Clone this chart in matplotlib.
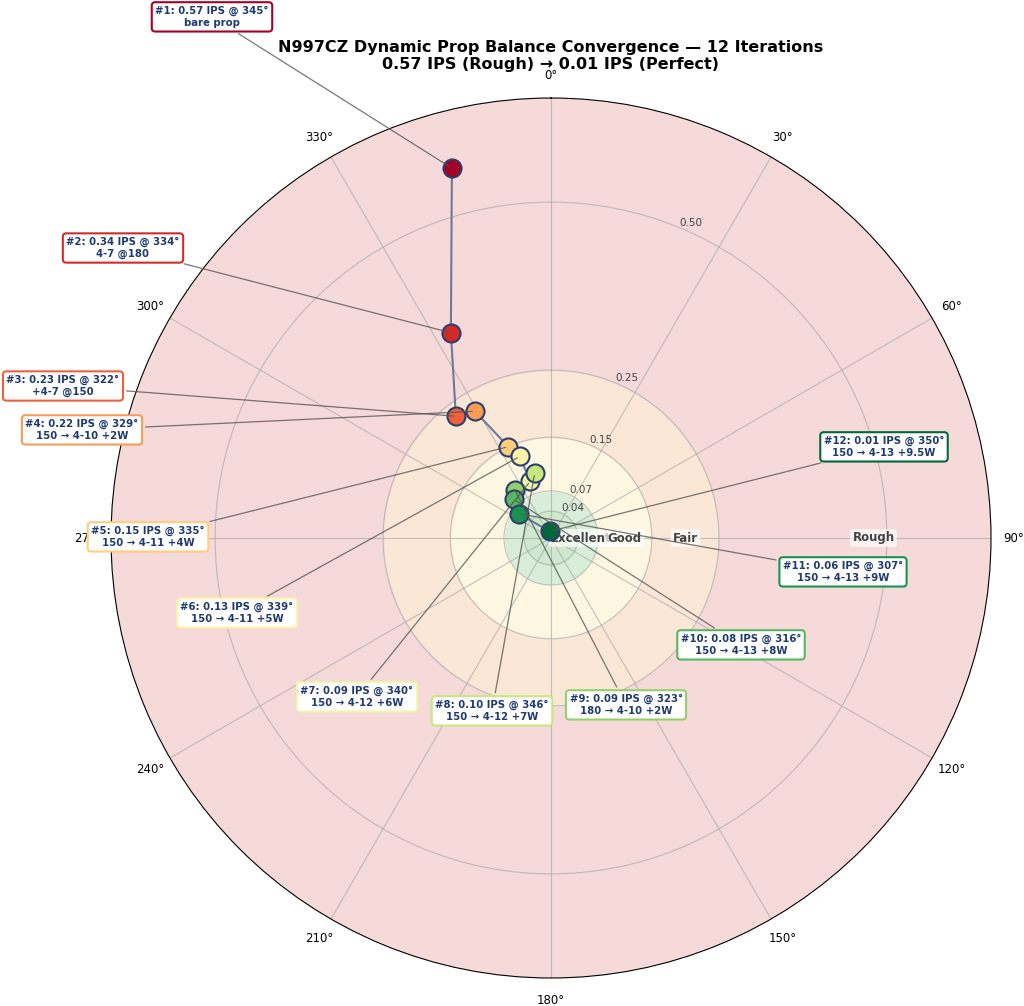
import numpy as np
import matplotlib
matplotlib.use("Agg")
import matplotlib.pyplot as plt

iters = list(range(1, 13))
ips = [0.57, 0.34, 0.23, 0.22, 0.15, 0.13, 0.09, 0.10, 0.09, 0.08, 0.06, 0.01]
angles = [345, 334, 322, 329, 335, 339, 340, 346, 323, 316, 307, 350]
notes = ["bare prop", "4-7 @180", "+4-7 @150", "150 → 4-10 +2W", "150 → 4-11 +4W",
         "150 → 4-11 +5W", "150 → 4-12 +6W", "150 → 4-12 +7W", "180 → 4-10 +2W",
         "150 → 4-13 +8W", "150 → 4-13 +9W", "150 → 4-13 +9.5W"]
label_px = [(212, 17), (123, 248), (63, 386), (82, 430), (148, 537), (237, 613),
            (357, 697), (492, 711), (626, 705), (741, 645), (843, 572), (884, 447)]
zone_edges = [0, 0.07, 0.15, 0.25, 0.655]
zone_colors = ["#d8eed8", "#fdf7e1", "#fbe7d6", "#f6d9d9"]
zone_names = ["Excellent", "Good", "Fair", "Rough"]
zone_label_r = [0.045, 0.11, 0.2, 0.48]
rticks = [0.04, 0.07, 0.15, 0.25, 0.50]

W, H = 1024, 1006
fig = plt.figure(figsize=(W/100, H/100), dpi=100)
ax = fig.add_axes([111/W, (H-978)/H, 880/W, 880/H], projection="polar")
ax.set_theta_zero_location("N")
ax.set_theta_direction(-1)
ax.set_ylim(0, zone_edges[-1])

th = np.linspace(0, 2*np.pi, 400)
for i in range(4):
    ax.fill_between(th, zone_edges[i], zone_edges[i+1], color=zone_colors[i], zorder=0)
ax.fill_between(th, 0, 0.04, color="#c6e6c6", alpha=0.5, zorder=0)
for n, r in zip(zone_names, zone_label_r):
    ax.text(np.deg2rad(90), r, n, ha="center", va="center", fontsize=8.5, fontweight="bold",
            color="#444444", bbox=dict(boxstyle="round,pad=0.2", fc="white", ec="none", alpha=0.7), zorder=3)

ax.set_rticks(rticks)
ax.set_yticklabels([f"{v:.2f}" for v in rticks], fontsize=7.5, color="#444444")
ax.set_rlabel_position(22.5)
ax.set_thetagrids(np.arange(0, 360, 30), [f"{a}°" for a in range(0, 360, 30)], fontsize=8.5)
ax.tick_params(axis="x", pad=6)
ax.grid(color="#aaaaaa", alpha=0.7)

t = np.deg2rad(angles)
ax.plot(t, ips, color="#6b7a99", lw=1.5, zorder=4)
cols = plt.cm.RdYlGn(np.linspace(0, 1, 12))
for i in range(12):
    ax.plot(t[i], ips[i], "o", ms=13, mfc=cols[i], mec="#2c3e6e", mew=1.5, zorder=5)
    x, y = label_px[i]
    ax.annotate(f"#{iters[i]}: {ips[i]:.2f} IPS @ {angles[i]}°\n{notes[i]}",
                xy=(t[i], ips[i]), xytext=(x/W, 1-y/H), textcoords="figure fraction",
                ha="center", va="center", fontsize=7.3, fontweight="bold", color="#1f3a6e",
                bbox=dict(boxstyle="round,pad=0.35", fc="white", ec=cols[i], lw=1.5),
                arrowprops=dict(arrowstyle="-", color="#555555", lw=0.9, alpha=0.8),
                annotation_clip=False, zorder=6)

fig.text(551/W, 1-56/H, "N997CZ Dynamic Prop Balance Convergence — 12 Iterations\n0.57 IPS (Rough) → 0.01 IPS (Perfect)",
         ha="center", va="center", fontsize=11.5, fontweight="bold", linespacing=1.1)
fig.savefig("out.png", dpi=100)
